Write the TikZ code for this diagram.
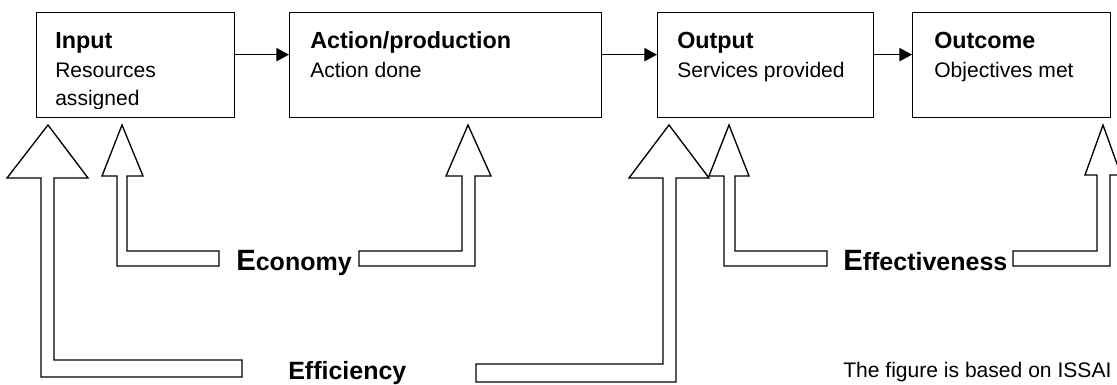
\documentclass[tikz,border=0pt]{standalone}
\usepackage{fontspec}
\setmainfont{Liberation Sans}
\usetikzlibrary{arrows.meta}

\tikzset{
  box/.style={draw, line width=1pt, anchor=north west, minimum height=78.75pt, inner sep=0pt},
  title/.style={anchor=base west, inner sep=0pt, font=\fontsize{17.5}{20}\selectfont\bfseries},
  body/.style={anchor=base west, inner sep=0pt, font=\fontsize{15.8}{18}\selectfont},
  lbl/.style={anchor=base west, inner sep=0pt, font=\fontsize{18.75}{22}\selectfont\bfseries},
  flow/.style={-{Triangle[length=9.5pt,width=10pt]}, line width=1pt},
  hollow/.style={draw, line width=1pt, fill=white, line join=miter},
}
\newcommand{\bigletter}[1]{{\fontsize{22}{22}\selectfont #1}}

\begin{document}
\begin{tikzpicture}[x=0.75pt, y=-0.75pt]
  \path[use as bounding box] (0,0) rectangle (1117,385);
  \clip (0,0) rectangle (1117,385);

  % the four stages
  \node[box, minimum width=148.5pt] (input)   at (36,12)  {};
  \node[box, minimum width=234pt]   (action)  at (289,12) {};
  \node[box, minimum width=162pt]   (output)  at (657,12) {};
  \node[box, minimum width=148.5pt] (outcome) at (912,12) {};

  \node[title] (inputT)   at (55,49)  {Input};
  \node[body]  (inputB)   at (55,78)  {Resources};
  \begin{scope}
    \clip (36,12) rectangle (234,108);
    \node[body] (inputC) at (55,105) {assigned};
  \end{scope}
  \node[title] (actionT)  at (310,49) {Action/production};
  \node[body]  (actionB)  at (310,78) {Action done};
  \node[title] (outputT)  at (677,49) {Output};
  \node[body]  (outputB)  at (677,78) {Services provided};
  \node[title] (outcomeT) at (934,49) {Outcome};
  \node[body]  (outcomeB) at (934,78) {Objectives met};

  \draw[flow] ([yshift=7.9pt]input.east)  -- ([yshift=7.9pt]action.west);
  \draw[flow] ([yshift=7.9pt]action.east) -- ([yshift=7.9pt]output.west);
  \draw[flow] ([yshift=7.9pt]output.east) -- ([yshift=7.9pt]outcome.west);

  % efficiency
  \path[hollow] (48,125) -- (88,178) -- (54,178) -- (54,360) -- (242,360)
    -- (242,377) -- (41,377) -- (41,178) -- (7,178) -- cycle;
  \path[hollow] (669,125) -- (709,178) -- (676,178) -- (676,382) -- (476,382)
    -- (476,364) -- (663,364) -- (663,178) -- (629,178) -- cycle;

  % economy
  \path[hollow] (122,125) -- (143,176) -- (127,176) -- (127,251) -- (219,251)
    -- (219,266) -- (117,266) -- (117,176) -- (102,176) -- cycle;
  \path[hollow] (468,125) -- (491,176) -- (475,176) -- (475,266) -- (359,266)
    -- (359,251) -- (462,251) -- (462,176) -- (446,176) -- cycle;

  % effectiveness
  \path[hollow] (729,125) -- (749,176) -- (735,176) -- (735,251) -- (827,251)
    -- (827,266) -- (724,266) -- (724,176) -- (709,176) -- cycle;
  \path[hollow] (1103,125) -- (1121,175) -- (1110,175) -- (1110,266) -- (1013,266)
    -- (1013,251) -- (1097,251) -- (1097,175) -- (1085,175) -- cycle;

  \node[lbl] (economy)       at (236,270) {\bigletter{E}conomy};
  \node[lbl] (efficiency)    at (288,379) {Efficiency};
  \node[lbl] (effectiveness) at (843,270) {\bigletter{E}ffectiveness};
  \node[body] (note)         at (843,377) {The figure is based on ISSAI 3000};
\end{tikzpicture}
\end{document}
